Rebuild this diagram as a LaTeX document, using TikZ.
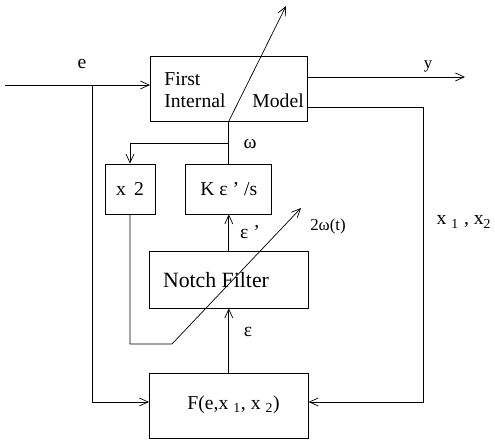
\documentclass[tikz,border=0pt]{standalone}
\usepackage{fontspec}
\setmainfont{Liberation Serif}
\usetikzlibrary{arrows.meta}

\begin{document}
\begin{tikzpicture}[>={Straight Barb[length=2.2mm,width=2mm]}, line width=0.5pt,
        blk/.style={draw, rectangle, inner sep=0pt},
        lbl/.style={inner sep=0pt, font=\fontsize{14}{17}\selectfont}]
        \useasboundingbox (0,0) rectangle (12.375,11);
        \node[blk, minimum width=3.925cm, minimum height=1.625cm] (fim) at (5.72, 8.79) {};
        \node[lbl, anchor=base west] at (4.1, 8.85) {First};
        \node[lbl, anchor=base west] at (4.1, 8.3) {Internal};
        \node[lbl, anchor=base west] at (6.3, 8.3) {Model};
        \node[blk, lbl, minimum width=1.25cm, minimum height=1.25cm] (x2) at (3.25, 6.275) {x\, 2};
        \node[blk, lbl, minimum width=2.15cm, minimum height=1.25cm] (K) at (5.72, 6.275) {K ε ' /s};
        \node[blk, minimum width=3.975cm, minimum height=1.425cm] (notch) at (5.72, 4.0125) {};
        \node[inner sep=0pt, font=\fontsize{15.5}{18}\selectfont] at (5.4, 4.0) {Notch Filter};
        \node[blk, minimum width=3.975cm, minimum height=1.625cm] (F) at (5.72, 0.8625) {};
        \node[lbl] at (5.84, 0.88) {F(e,x \textsubscript{1}, x \textsubscript{2})};

        \coordinate (ein) at (0.125, 8.875);
        \coordinate (ebr) at (2.3, 8.875);
        \coordinate (fl) at (F.west |- 0, 0.95);
        \coordinate (fr) at (F.east |- 0, 0.95);
        \coordinate (wbr) at (5.72, 7.425);
        \coordinate (sw) at (3.25, 2.4);
        \coordinate (sk) at (4.3, 2.4);
        \coordinate (stip) at (7.525, 5.8);
        \coordinate (gtip) at (7.15, 10.85);
        \coordinate (yout) at (11.625, 9.075);
        \coordinate (xcor) at (10.575, 8.325);

        \draw[->] (ein) -- (ein -| fim.west);
        \draw[->] (ebr) |- (fl);
        \draw[->] (fim.south) -- (gtip);
        \draw (fim.south) -- (K.north);
        \draw[->] (wbr) -| (x2.north);
        \draw[->] (notch.north) -- (K.south);
        \draw[->] (F.north) -- (notch.south);
        \draw[->] (x2.south) -- (sw) -- (sk) -- (stip);
        \draw[->] (yout -| fim.east) -- (yout);
        \draw[->] (xcor -| fim.east) -- (xcor) |- (fr);

        \node[lbl] at (2.05, 9.4) {e};
        \node[lbl] at (6.25, 7.4) {ω};
        \node[lbl] at (6.25, 5.2) {ε '};
        \node[lbl] at (6.2, 2.7) {ε};
        \node[inner sep=0pt, font=\fontsize{12}{14}\selectfont] at (8.2, 5.35) {2ω(t)};
        \node[inner sep=0pt, font=\fontsize{12}{14}\selectfont] at (10.7, 9.35) {y};
        \node[lbl] at (11.6, 5.45) {x \textsubscript{1} , x\textsubscript{2}};
\end{tikzpicture}
\end{document}
